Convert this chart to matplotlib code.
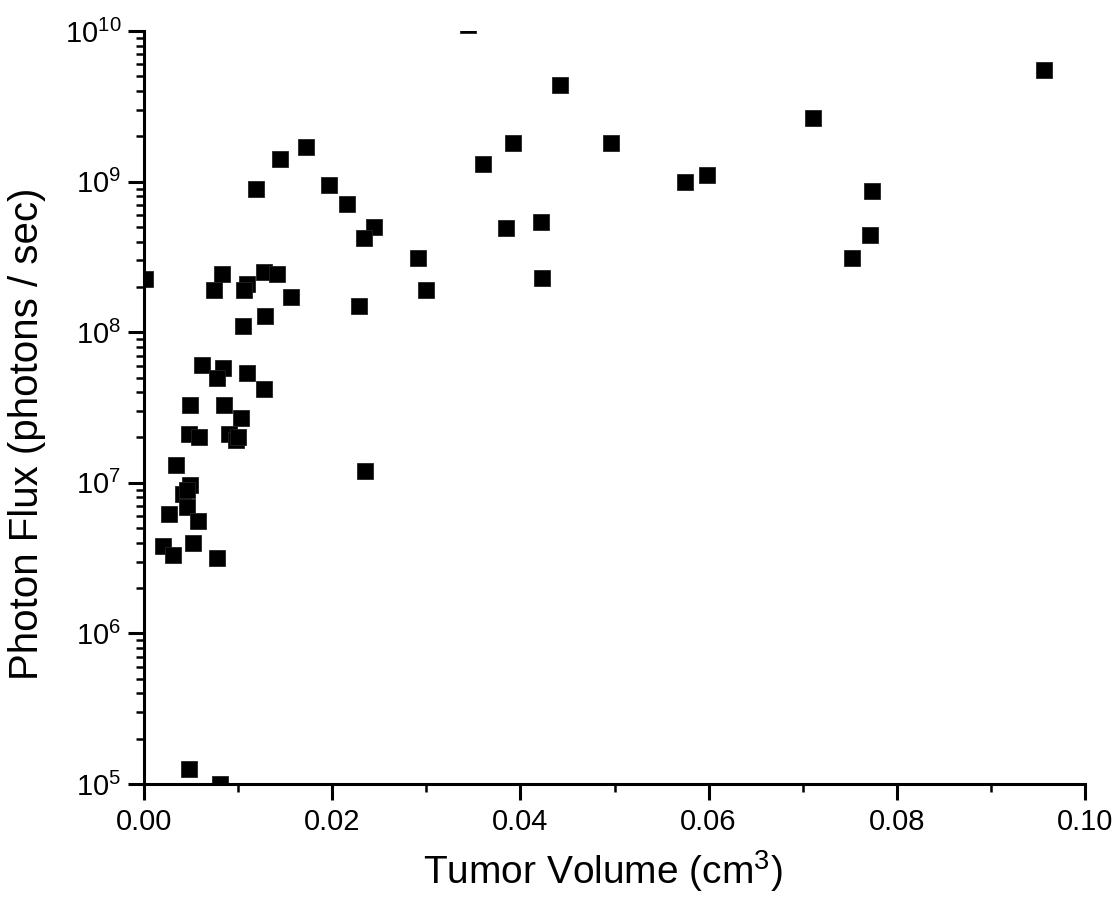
import matplotlib
matplotlib.use("Agg")
import matplotlib.pyplot as plt
from matplotlib.ticker import LogLocator, MultipleLocator, FixedLocator

plt.rcParams['font.family'] = ['Liberation Sans', 'DejaVu Sans']
plt.rcParams['mathtext.fontset'] = 'custom'
plt.rcParams['mathtext.rm'] = 'Liberation Sans'
plt.rcParams['mathtext.it'] = 'Liberation Sans:italic'
plt.rcParams['mathtext.bf'] = 'Liberation Sans:bold'

# Tumor volume (cm^3)
volume = [0.0001, 0.00826, 0.00746, 0.01100, 0.01063, 0.01272, 0.01417, 0.01562,
          0.02287, 0.01291, 0.01055, 0.00614, 0.00842, 0.00774, 0.01098, 0.01275,
          0.00491, 0.00848, 0.01036, 0.00476, 0.00584, 0.00903, 0.00975, 0.01000,
          0.00342, 0.02349, 0.00485, 0.00418, 0.00454, 0.00460, 0.00269, 0.00574,
          0.00197, 0.00310, 0.00517, 0.00774, 0.00475, 0.00811,
          0.01193, 0.01445, 0.01720, 0.01969, 0.02154, 0.02439, 0.02343,
          0.03922, 0.04961, 0.03599, 0.03847, 0.04222, 0.02912, 0.02997, 0.04228,
          0.04418, 0.07107, 0.05746, 0.05985, 0.07736, 0.07712, 0.07522, 0.09561,
          0.03443]
# Photon flux (photons / sec)
flux = [2.25e8, 2.42e8, 1.90e8, 2.10e8, 1.90e8, 2.51e8, 2.42e8, 1.71e8,
        1.50e8, 1.29e8, 1.10e8, 6.03e7, 5.75e7, 4.99e7, 5.33e7, 4.22e7,
        3.31e7, 3.31e7, 2.71e7, 2.10e7, 2.00e7, 2.10e7, 1.92e7, 2.00e7,
        1.31e7, 1.19e7, 9.66e6, 8.45e6, 6.93e6, 8.9e6, 6.21e6, 5.55e6,
        3.80e6, 3.32e6, 4.00e6, 3.19e6, 1.25e5, 1.00e5,
        8.97e8, 1.42e9, 1.70e9, 9.52e8, 7.10e8, 5.00e8, 4.22e8,
        1.81e9, 1.81e9, 1.31e9, 4.94e8, 5.43e8, 3.13e8, 1.90e8, 2.30e8,
        4.35e9, 2.64e9, 1.00e9, 1.10e9, 8.71e8, 4.41e8, 3.13e8, 5.47e9,
        1.10e10]

x_ticks = [0.00, 0.02, 0.04, 0.06, 0.08, 0.10]
x_tick_labels = ["0.00", "0.02", "0.04", "0.06", "0.08", "0.10"]

fig = plt.figure(figsize=(11.17, 9.07), dpi=100)
ax = fig.add_axes([0.1289, 0.1356, 0.9714 - 0.1289, 0.9658 - 0.1356])

ax.plot(volume, flux, linestyle='none', marker='s', markersize=11.5,
        markerfacecolor='black', markeredgecolor='#222222', markeredgewidth=0.6,
        clip_on=True)

ax.set_yscale('log')
ax.set_xlim(0, 0.10)
ax.set_ylim(1e5, 1e10)

ax.xaxis.set_major_locator(FixedLocator(x_ticks))
ax.set_xticklabels(x_tick_labels)
ax.xaxis.set_minor_locator(MultipleLocator(0.01))
ax.yaxis.set_major_locator(LogLocator(base=10, numticks=10))
ax.yaxis.set_minor_locator(LogLocator(base=10, subs=range(2, 10), numticks=20))

for s in ['top', 'right']:
    ax.spines[s].set_visible(False)
for s in ['left', 'bottom']:
    ax.spines[s].set_linewidth(2.2)
    ax.spines[s].set_color('black')

ax.tick_params(axis='both', which='major', direction='out', length=11.5, width=2.2,
               labelsize=21, color='black')
ax.tick_params(axis='both', which='minor', direction='out', length=5.5, width=1.8,
               color='black')
ax.tick_params(axis='x', which='major', pad=6)
ax.tick_params(axis='y', which='major', pad=5)

ax.set_xlabel("Tumor Volume (cm$^3$)", fontsize=28)
ax.set_ylabel("Photon Flux (photons / sec)", fontsize=29)
ax.xaxis.set_label_coords(0.488, -0.085)
ax.yaxis.set_label_coords(-0.104, 0.465)

fig.savefig("out.png", dpi=100)
